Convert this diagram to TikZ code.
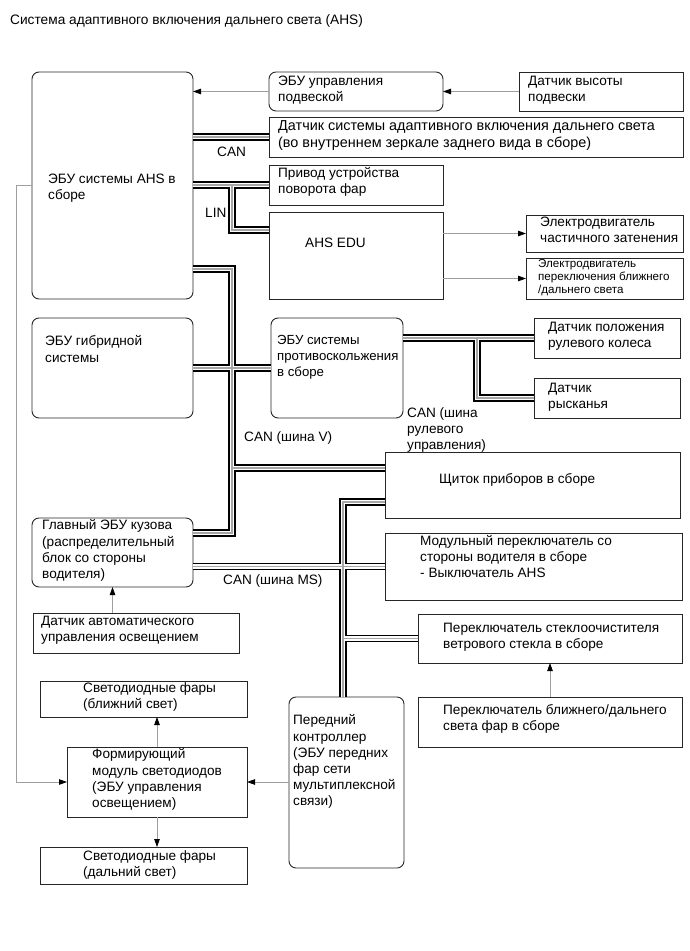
\documentclass[tikz,border=0pt]{standalone}
\usepackage{fontspec}
\setmainfont{Liberation Sans}
\usetikzlibrary{arrows.meta}
\begin{document}
\begin{tikzpicture}[x=1pt,y=-1pt,
  box/.style={draw=black!85, line width=0.9pt, anchor=north west, inner sep=0pt, outer sep=0pt},
  rbox/.style={box, rounded corners=7pt},
  txt/.style={anchor=north west, inner sep=0pt, align=left, font=\fontsize{13.6}{16.2}\selectfont, execute at begin node={\rule{0pt}{12pt}}},
  bigtxt/.style={txt, font=\fontsize{14.4}{17.4}\selectfont},
  narrowtxt/.style={txt, font=\fontsize{13.2}{16}\selectfont},
  smalltxt/.style={txt, font=\fontsize{11.6}{12.8}\selectfont},
  titletxt/.style={txt, font=\fontsize{13.7}{16}\selectfont},
  arr/.style={draw=gray!75, line width=0.8pt, -{Triangle[length=8pt,width=5.5pt,color=black]}},
  bus/.style={draw=gray!70, line width=1.1pt, preaction={draw=black, line width=7.6pt}, preaction={draw=white, line width=4.2pt}}
]
\useasboundingbox (0,0) rectangle (689,951);

% boxes
\node[rbox, minimum width=161pt, minimum height=227pt] (ahs) at (32,72) {};
\node[rbox, minimum width=174pt, minimum height=39pt] (susp) at (269,72) {};
\node[box, minimum width=164pt, minimum height=39pt] (hsens) at (519,72) {};
\node[box, minimum width=414pt, minimum height=40pt] (adsens) at (269,117) {};
\node[box, minimum width=174pt, minimum height=40pt] (drv) at (269,165) {};
\node[box, minimum width=174pt, minimum height=87pt] (edu) at (269,212) {};
\node[box, minimum width=157pt, minimum height=37pt] (pmot) at (526,215) {};
\node[box, minimum width=157pt, minimum height=41pt] (hlmot) at (526,258) {};
\node[rbox, minimum width=161pt, minimum height=100pt] (hyb) at (32,318) {};
\node[rbox, minimum width=132pt, minimum height=100pt] (anti) at (271,318) {};
\node[box, minimum width=146pt, minimum height=40pt] (pos) at (534,318) {};
\node[box, minimum width=146pt, minimum height=40pt] (yaw) at (534,378) {};
\node[box, minimum width=295pt, minimum height=66pt] (shch) at (385,452) {};
\node[box, minimum width=297pt, minimum height=67pt] (mod) at (385,533) {};
\node[box, minimum width=264pt, minimum height=49pt] (wiper) at (418,614) {};
\node[box, minimum width=264pt, minimum height=50pt] (hlsw) at (418,697) {};
\node[rbox, minimum width=161pt, minimum height=69pt] (gbody) at (32,518) {};
\node[box, minimum width=206pt, minimum height=40pt] (alsens) at (33,613) {};
\node[box, minimum width=207pt, minimum height=36pt] (low) at (40,681) {};
\node[box, minimum width=180pt, minimum height=70pt] (led) at (67,747) {};
\node[box, minimum width=207pt, minimum height=37pt] (high) at (40,847) {};
\node[rbox, minimum width=115pt, minimum height=171pt] (front) at (289,697) {};

% texts
\node[titletxt] (title) at (10,12.5) {Система адаптивного включения дальнего света (AHS)};
\node[txt] (tahs) at (48,174) {ЭБУ системы AHS в\\сборе};
\node[txt] (tsusp) at (278,75.5) {ЭБУ управления\\подвеской};
\node[txt] (thsens) at (528,75.5) {Датчик высоты\\подвески};
\node[bigtxt] (tadsens) at (278,120) {Датчик системы адаптивного включения дальнего света\\(во внутреннем зеркале заднего вида в сборе)};
\node[txt] (tdrv) at (278,167.5) {Привод устройства\\поворота фар};
\node[txt] (tedu) at (305,235.5) {AHS EDU};
\node[txt] (tpmot) at (540,217) {Электродвигатель\\частичного затенения};
\node[smalltxt] (thlmot) at (538,259.5) {Электродвигатель\\переключения ближнего\\/дальнего света};
\node[txt] (thyb) at (45,335.5) {ЭБУ гибридной\\системы};
\node[narrowtxt] (tanti) at (277,335) {ЭБУ системы\\противоскольжения\\в сборе};
\node[txt] (tpos) at (548,321.5) {Датчик положения\\рулевого колеса};
\node[txt] (tyaw) at (548,382.5) {Датчик\\рысканья};
\node[txt] (lsteer) at (407,407.5) {CAN (шина\\рулевого\\управления)};
\node[txt] (tshch) at (439,471.5) {Щиток приборов в сборе};
\node[txt] (tmod) at (420,535) {Модульный переключатель со\\стороны водителя в сборе\\- Выключатель AHS};
\node[txt] (twiper) at (443,622.5) {Переключатель стеклоочистителя\\ветрового стекла в сборе};
\node[txt] (thlsw) at (443,704.5) {Переключатель ближнего/дальнего\\света фар в сборе};
\node[txt] (tgbody) at (42,519.5) {Главный ЭБУ кузова\\(распределительный\\блок со стороны\\водителя)};
\node[txt] (lms) at (223,572.5) {CAN (шина MS)};
\node[txt] (talsens) at (41,615.5) {Датчик автоматического\\управления освещением};
\node[txt] (tlow) at (83,682.5) {Светодиодные фары\\(ближний свет)};
\node[txt] (tled) at (92,748.5) {Формирующий\\модуль светодиодов\\(ЭБУ управления\\освещением)};
\node[txt] (thigh) at (83,850.5) {Светодиодные фары\\(дальний свет)};
\node[txt] (tfront) at (293,714.5) {Передний\\контроллер\\(ЭБУ передних\\фар сети\\мультиплексной\\связи)};
\node[txt] (lv) at (244,429.5) {CAN (шина V)};
\node[txt] (lcan) at (217,144.5) {CAN};
\node[txt] (llin) at (205,205.5) {LIN};

% coordinates for bus bends
\coordinate (lin1) at (232,185);
\coordinate (lin2) at (232,230);
\coordinate (v1) at (232,269);
\coordinate (v2) at (232,533);
\coordinate (v3) at (232,468);
\coordinate (st1) at (477,338);
\coordinate (ms1) at (343,502);
\coordinate (l1) at (16,185);

% buses
\draw[bus] (ahs.east |- adsens.west) -- (adsens.west);
\draw[bus] (ahs.east |- drv.west) -- (drv.west) (lin1) -- (lin2) -- (edu.west |- lin2);
\draw[bus] (ahs.east |- v1) -- (v1) -- (v2) -- (gbody.east |- v2)
  (hyb.east) -- (anti.west) (v3) -- (shch.west |- v3);
\draw[bus] (anti.east |- pos.west) -- (pos.west) (st1) -- (st1 |- yaw.west) -- (yaw.west);
\draw[bus] (shch.west |- ms1) -- (ms1) -- (ms1 |- front.north)
  (gbody.east |- mod.west) -- (mod.west) (ms1 |- wiper.west) -- (wiper.west);

% arrows
\draw[arr] (hsens.west) -- (susp.east);
\draw[arr] (susp.west) -- (ahs.east |- susp.west);
\draw[arr] (edu.east |- pmot.west) -- (pmot.west);
\draw[arr] (edu.east |- hlmot.west) -- (hlmot.west);
\draw[arr] (hlsw.north) -- (wiper.south);
\draw[arr] (alsens.north -| gbody.south) -- (gbody.south);
\draw[arr] (led.north) -- (led.north |- low.south);
\draw[arr] (led.south) -- (led.south |- high.north);
\draw[arr] (front.west |- led.east) -- (led.east);
\draw[arr] (ahs.west |- l1) -- (l1) -- (l1 |- led.west) -- (led.west);
\end{tikzpicture}
\end{document}
